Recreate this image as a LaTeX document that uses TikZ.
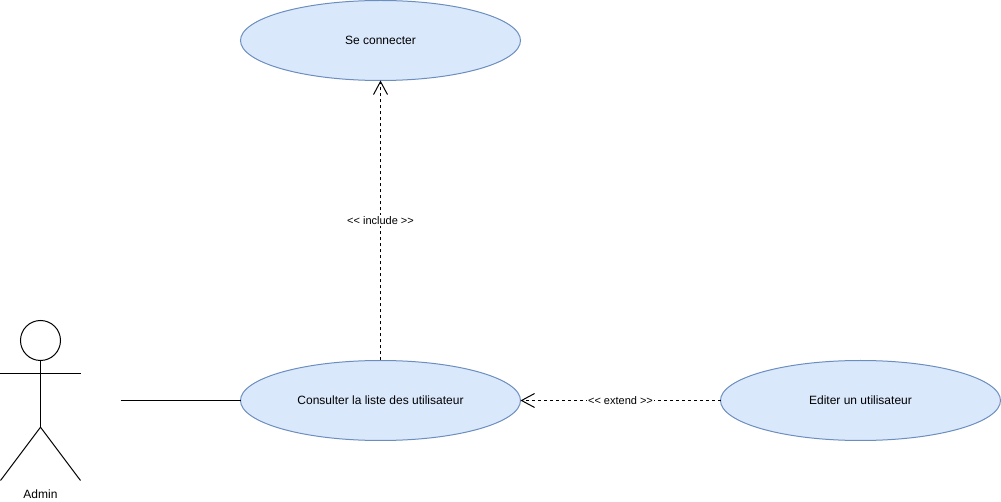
\documentclass[tikz,border=0pt]{standalone}
\usepackage{fontspec}
\setmainfont{Liberation Sans}
\usetikzlibrary{
  arrows.meta,
  positioning,
  shapes.geometric,
}
\definecolor{ucfill}{HTML}{DAE8FC}
\definecolor{ucdraw}{HTML}{6C8EBF}
\tikzset{
  >={Straight Barb[width=10.5pt,length=9.75pt,line width=.75pt]},
}
\begin{document}
\begin{tikzpicture}[
      x=.75pt,
      y=-.75pt,
      line width=.75pt,
      every node/.style={
        align=center,
        inner sep=0pt,
        outer sep=0pt,
      },
      usecase/.style={draw=ucdraw,
        fill=ucfill,
        ellipse,
        minimum width=210pt,
        minimum height=60pt,
        font=\fontsize{9}{11}\selectfont,
      },
      dep/.style={
        dashed,
        dash pattern=on 2.25pt off 2.25pt,
        ->,
      },
      deplabel/.style={
        fill=white,
        inner sep=.75pt,
        font=\fontsize{8.25}{10}\selectfont,
      },
      ]
      \useasboundingbox (0,0) rectangle (1001,502);

      \node[usecase] (consult) at (380.5,400.5) {Consulter la liste des utilisateur};
      \node[usecase, above=210pt of consult] (login) {Se connecter};
      \node[usecase, right=150pt of consult] (edit) {Editer un utilisateur};

      % actor
      \node[draw, circle, minimum size=30pt] (head) at (40.5,340.5) {};
      \coordinate (arm-l) at (0.5,373.7);
      \coordinate (arm-r) at (80.5,373.7);
      \coordinate (hip) at (40.5,427.2);
      \coordinate (foot-l) at (0.5,480.5);
      \coordinate (foot-r) at (80.5,480.5);
      \coordinate (assoc) at (120.5,400.5);
      \node[font=\fontsize{9}{11}\selectfont] (admin) at (40.5,494) {Admin};

      \draw (head) -- (hip);
      \draw (arm-l) -- (arm-r);
      \draw (foot-l) -- (hip) -- (foot-r);

      \draw (assoc) -- (consult);
      \draw[dep] (consult) -- node[deplabel] (include) {<{}< include >{}>} (login);
      \draw[dep] (edit) -- node[deplabel] (extend) {<{}< extend >{}>} (consult);
    \end{tikzpicture}
\end{document}
